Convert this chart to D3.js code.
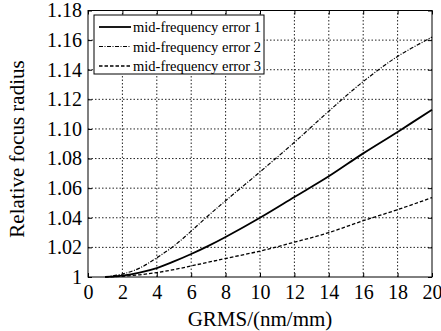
<!DOCTYPE html>
<html><head><meta charset="utf-8">
<script src="https://cdn.jsdelivr.net/npm/d3@7"></script>
<style>html,body{margin:0;padding:0;background:#fff}svg{display:block}</style>
</head><body>
<svg id="c" width="441" height="331"></svg>
<script>
const xTicks = [0,2,4,6,8,10,12,14,16,18,20];
const yTicks = [1,1.02,1.04,1.06,1.08,1.10,1.12,1.14,1.16,1.18];
const yTickLabels = ["1","1.02","1.04","1.06","1.08","1.10","1.12","1.14","1.16","1.18"];
const grms = [1,2,3,4,5,6,7,8,10,12,14,16,18,20];
const err1 = [1.000,1.001,1.003,1.006,1.0105,1.0155,1.021,1.027,1.040,1.054,1.068,1.0835,1.098,1.113];
const err2 = [1.000,1.002,1.006,1.013,1.021,1.031,1.0415,1.0515,1.071,1.091,1.112,1.132,1.149,1.162];
const err3 = [1.000,1.0005,1.0015,1.003,1.005,1.0075,1.010,1.0125,1.0175,1.0235,1.030,1.038,1.0455,1.0536];
const seriesNames = ["mid-frequency error 1","mid-frequency error 2","mid-frequency error 3"];

const svg = d3.select("#c");
const font = "'Liberation Serif','Times New Roman',serif";
const x = d3.scaleLinear().domain([0,20]).range([88,432]);
const y = d3.scaleLinear().domain([1,1.18]).range([277,10.5]);
const [x0,x1] = x.range(), [y0,y1] = y.range();

// grid
const g = svg.append("g");
g.selectAll("line.gx").data(xTicks.slice(1,-1)).enter().append("line")
  .attr("x1",d=>x(d)).attr("x2",d=>x(d)).attr("y1",y0).attr("y2",y1)
  .attr("stroke","#222").attr("stroke-width",1).attr("stroke-dasharray","1.5,2");
g.selectAll("line.gy").data(yTicks.slice(1,-1)).enter().append("line")
  .attr("y1",d=>y(d)).attr("y2",d=>y(d)).attr("x1",x0).attr("x2",x1)
  .attr("stroke","#222").attr("stroke-width",1).attr("stroke-dasharray","1.5,2");

// axes
const xa = d3.axisBottom(x).tickValues(xTicks).tickSize(-4).tickPadding(8).tickFormat(d3.format("d"));
const ya = d3.axisLeft(y).tickValues(yTicks).tickSize(-4).tickPadding(6).tickFormat((d,i)=>yTickLabels[i]);
const xt = d3.axisTop(x).tickValues(xTicks).tickSize(-4).tickFormat("");
const yr = d3.axisRight(y).tickValues(yTicks).tickSize(-4).tickFormat("");
function style(sel){
  sel.select(".domain").remove();
  sel.selectAll("line").attr("stroke","#000");
  sel.selectAll("text").attr("font-family",font).attr("font-size",20).attr("fill","#000");
}
svg.append("g").attr("transform",`translate(0,${y0})`).call(xa).call(style);
svg.append("g").attr("transform",`translate(${x0},0)`).call(ya).call(style);
svg.append("g").attr("transform",`translate(0,${y1})`).call(xt).call(style);
svg.append("g").attr("transform",`translate(${x1},0)`).call(yr).call(style);
svg.append("rect").attr("x",x0).attr("y",y1).attr("width",x1-x0).attr("height",y0-y1)
  .attr("fill","none").attr("stroke","#000").attr("stroke-width",1);

// series
const styles = [
  {w:1.8, dash:null},
  {w:1.2, dash:"4,1.5,1,1.5"},
  {w:1.3, dash:"3.5,2"}
];
const all = [err1,err2,err3];
const line = d3.line().x((d,i)=>x(grms[i])).y(d=>y(d)).curve(d3.curveCatmullRom.alpha(0.5));
all.forEach((s,k)=>{
  svg.append("path").datum(s).attr("d",line).attr("fill","none")
    .attr("stroke","#000").attr("stroke-width",styles[k].w)
    .attr("stroke-dasharray",styles[k].dash);
});

// legend
const lg = svg.append("g");
lg.append("rect").attr("x",94).attr("y",15).attr("width",170).attr("height",59)
  .attr("fill","#fff").attr("stroke","#000").attr("stroke-width",1);
seriesNames.forEach((n,k)=>{
  const yy = 27 + k*19.5;
  lg.append("line").attr("x1",99).attr("x2",131).attr("y1",yy).attr("y2",yy)
    .attr("stroke","#000").attr("stroke-width",styles[k].w).attr("stroke-dasharray",styles[k].dash);
  lg.append("text").attr("x",133).attr("y",yy).attr("dy","0.35em")
    .attr("font-family",font).attr("font-size",14.5).text(n);
});

// axis titles
svg.append("text").attr("x",(x0+x1)/2).attr("y",326).attr("text-anchor","middle")
  .attr("font-family",font).attr("font-size",21).text("GRMS/(nm/mm)");
svg.append("text").attr("transform",`translate(24,149) rotate(-90)`).attr("text-anchor","middle")
  .attr("font-family",font).attr("font-size",21).text("Relative focus radius");
</script>
</body></html>
